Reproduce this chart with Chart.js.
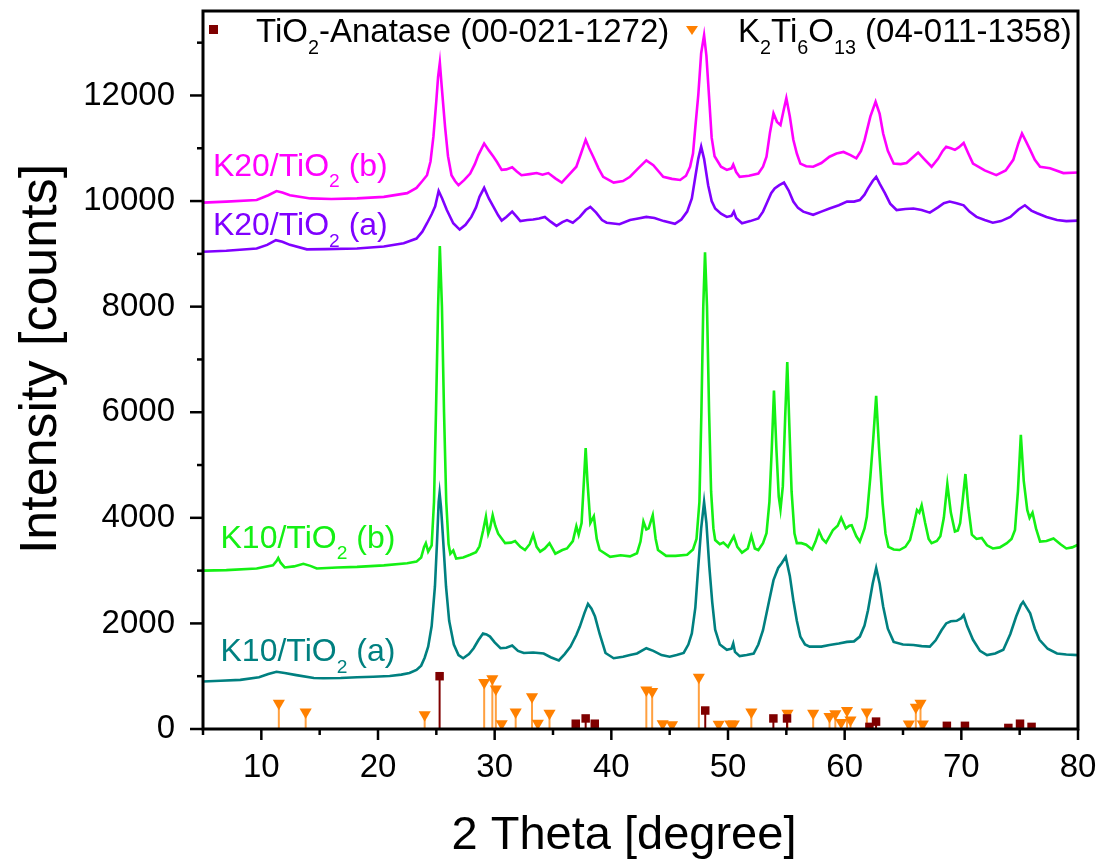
<!DOCTYPE html>
<html>
<head>
<meta charset="utf-8">
<title>XRD K10/K20 TiO2</title>
<script src="https://cdn.jsdelivr.net/npm/chart.js@4.4.1/dist/chart.umd.min.js"></script>
<style>
  body { margin: 0; background: #fff; }
  canvas { display: block; }
</style>
</head>
<body>
<canvas id="xrdChart" width="1102" height="861"></canvas>
<script>
"use strict";

// axis ticks
const xTickValues = [5, 10, 15, 20, 25, 30, 35, 40, 45, 50, 55, 60, 65, 70, 75, 80];
const yTickValues = [0, 1000, 2000, 3000, 4000, 5000, 6000, 7000, 8000, 9000, 10000, 11000, 12000, 13000];

// K10/TiO2 (a)
const k10aAngle = [5.0, 6.5, 8.2, 9.8, 10.6, 11.3, 12.0, 13.0, 14.5, 15.3, 16.8, 18.2, 19.6, 21.0, 22.0, 22.7, 23.3, 23.7, 24.0, 24.3,
    24.6, 24.88, 25.05, 25.2, 25.28, 25.4, 25.55, 25.83, 26.1, 26.5, 26.9, 27.3, 27.8, 28.2, 28.6, 29.0, 29.3, 29.6, 30.0, 30.5,
    31.0, 31.5, 32.0, 32.5, 33.3, 34.2, 34.8, 35.5, 36.0, 36.5, 37.0, 37.3, 37.7, 38.0, 38.3, 38.6, 39.0, 39.5, 40.2, 41.0,
    41.6, 42.2, 43.0, 43.6, 44.3, 45.0, 45.6, 46.2, 46.6, 46.9, 47.2, 47.45, 47.7, 47.95, 48.15, 48.4, 48.65, 48.9, 49.3, 49.9,
    50.3, 50.45, 50.6, 51.0, 51.6, 52.2, 52.6, 53.0, 53.5, 53.9, 54.3, 54.6, 54.95, 55.3, 55.6, 55.9, 56.2, 56.6, 57.0, 58.0,
    58.7, 59.5, 60.2, 60.8, 61.3, 61.7, 62.0, 62.4, 62.7, 63.0, 63.3, 63.7, 64.2, 65.0, 65.9, 66.6, 67.3, 67.8, 68.3, 68.7,
    69.1, 69.6, 70.0, 70.2, 70.5, 71.0, 71.6, 72.2, 72.9, 73.6, 74.2, 74.7, 75.1, 75.3, 75.6, 75.9, 76.3, 76.7, 77.4, 78.2,
    79.0, 80.0];
const k10aCounts = [900, 915, 930, 980, 1040, 1085, 1060, 1020, 965, 960, 965, 980, 990, 1005, 1030, 1060, 1120, 1200, 1350, 1560,
    1950, 2700, 3500, 4300, 4470, 4200, 3700, 2700, 2050, 1600, 1400, 1340, 1420, 1530, 1680, 1810, 1790, 1750, 1640, 1530,
    1540, 1580, 1480, 1440, 1450, 1430, 1360, 1300, 1420, 1560, 1780, 1940, 2200, 2370, 2280, 2130, 1800, 1440, 1340, 1370,
    1400, 1430, 1530, 1480, 1400, 1370, 1400, 1440, 1600, 1810, 2300, 3070, 3800, 4300, 3900, 3070, 2400, 1880, 1600, 1500,
    1520, 1620, 1460, 1380, 1400, 1430, 1600, 1870, 2400, 2820, 3050, 3140, 3260, 2900, 2440, 2050, 1750, 1600, 1560, 1560,
    1590, 1620, 1650, 1660, 1750, 1960, 2250, 2750, 3050, 2750, 2320, 1900, 1650, 1600, 1590, 1570, 1560, 1680, 1870, 2000,
    2040, 2050, 2100, 2160, 1950, 1690, 1480, 1400, 1430, 1500, 1800, 2130, 2350, 2410, 2300, 2190, 1900, 1690, 1520, 1430,
    1410, 1400];

// K10/TiO2 (b)
const k10bAngle = [5.0, 7.0, 9.6, 11.0, 11.3, 11.45, 11.65, 12.0, 12.8, 13.6, 14.2, 14.75, 16.5, 18.2, 20.5, 22.5, 23.3, 23.7, 23.95, 24.1,
    24.3, 24.6, 24.8, 24.97, 25.15, 25.3, 25.48, 25.66, 25.85, 26.05, 26.2, 26.45, 26.7, 27.3, 27.9, 28.4, 28.7, 29.0, 29.25, 29.45,
    29.6, 29.83, 30.05, 30.3, 30.9, 31.4, 31.75, 32.2, 32.6, 33.0, 33.3, 33.6, 33.9, 34.3, 34.7, 35.2, 35.8, 36.2, 36.7, 37.0,
    37.2, 37.45, 37.65, 37.8, 37.95, 38.2, 38.5, 38.75, 39.0, 39.9, 40.8, 41.6, 42.2, 42.5, 42.75, 43.0, 43.2, 43.55, 43.8, 44.0,
    44.7, 45.5, 46.5, 47.0, 47.3, 47.55, 47.72, 47.88, 48.03, 48.2, 48.38, 48.55, 48.75, 48.9, 49.3, 49.6, 50.0, 50.5, 50.8, 51.2,
    51.7, 52.0, 52.3, 52.6, 53.0, 53.3, 53.55, 53.75, 53.94, 54.15, 54.35, 54.5, 54.7, 54.9, 55.08, 55.25, 55.45, 55.7, 55.9, 56.3,
    56.7, 57.2, 57.5, 57.8, 58.1, 58.4, 58.7, 59.0, 59.4, 59.7, 60.1, 60.4, 60.6, 61.0, 61.3, 61.7, 61.9, 62.2, 62.45, 62.7,
    62.95, 63.25, 63.5, 63.75, 64.2, 64.7, 65.2, 65.6, 65.9, 66.2, 66.4, 66.6, 66.9, 67.2, 67.45, 67.9, 68.2, 68.5, 68.8, 69.1,
    69.45, 69.7, 69.9, 70.1, 70.35, 70.6, 70.9, 71.3, 71.75, 72.2, 72.7, 73.3, 73.9, 74.3, 74.6, 74.85, 75.1, 75.35, 75.65, 75.85,
    76.1, 76.4, 76.75, 77.3, 77.9, 78.5, 79.0, 79.5, 80.0];
const k10bCounts = [3000, 3010, 3040, 3100, 3180, 3240, 3150, 3060, 3080, 3130, 3090, 3040, 3060, 3070, 3100, 3140, 3170, 3250, 3450, 3520,
    3360, 3480, 4300, 6000, 8000, 9150, 8000, 6000, 4300, 3500, 3320, 3380, 3230, 3250, 3300, 3350, 3460, 3750, 4020, 3700,
    3800, 4050, 3850, 3700, 3520, 3530, 3560, 3450, 3390, 3500, 3680, 3450, 3360, 3420, 3520, 3320, 3390, 3420, 3560, 3840,
    3680, 3900, 4700, 5320, 4700, 3900, 4030, 3600, 3390, 3260, 3290, 3270, 3330, 3550, 3930, 3780, 3800, 4050, 3600, 3390,
    3280, 3280, 3300, 3400, 3600, 4300, 6000, 8000, 9030, 8000, 6000, 4500, 3800, 3580, 3500, 3530, 3450, 3650, 3450, 3340,
    3420, 3660, 3420, 3390, 3520, 3710, 4300, 5300, 6410, 5300, 4400, 4160, 4600, 5900, 6950, 5800, 4500, 3700, 3520, 3520,
    3490, 3400, 3550, 3750, 3600, 3530, 3650, 3770, 3850, 4000, 3800, 3850, 3860, 3650, 3550, 3800, 4020, 4770, 5500, 6310,
    5300, 4280, 3700, 3450, 3400, 3390, 3450, 3580, 3850, 4150, 4100, 4240, 3900, 3600, 3520, 3560, 3650, 4000, 4640, 4100,
    3740, 3760, 3900, 4300, 4830, 4200, 3680, 3600, 3620, 3480, 3420, 3440, 3520, 3600, 3770, 4500, 5570, 4700, 4150, 4000,
    4100, 3800, 3550, 3560, 3610, 3500, 3420, 3440, 3490];

// K20/TiO2 (a)
const k20aAngle = [5.0, 7.0, 9.6, 10.5, 11.25, 11.8, 12.45, 13.9, 15.5, 18.2, 20.5, 22.2, 23.3, 23.8, 24.2, 24.6, 24.9, 25.2, 25.5, 25.9,
    26.45, 27.0, 27.5, 28.0, 28.4, 28.7, 29.1, 29.5, 29.9, 30.3, 30.6, 31.0, 31.5, 31.9, 32.2, 32.8, 33.3, 33.8, 34.3, 34.8,
    35.3, 35.8, 36.2, 36.7, 37.3, 37.8, 38.2, 38.7, 39.2, 39.6, 40.7, 41.6, 42.3, 43.0, 43.7, 44.5, 45.45, 46.0, 46.5, 46.9,
    47.2, 47.45, 47.7, 47.95, 48.3, 48.6, 48.9, 49.4, 49.9, 50.3, 50.5, 50.7, 51.2, 51.9, 52.6, 53.0, 53.3, 53.7, 54.0, 54.4,
    54.8, 55.2, 55.6, 56.0, 56.45, 57.3, 58.0, 58.7, 59.5, 60.2, 60.8, 61.3, 61.7, 62.0, 62.4, 62.7, 63.0, 63.45, 63.9, 64.45,
    65.2, 65.9, 66.6, 67.3, 68.0, 68.5, 69.0, 69.6, 70.2, 70.7, 71.3, 72.0, 72.7, 73.4, 74.2, 74.9, 75.45, 76.0, 76.5, 77.3,
    78.2, 79.0, 80.0];
const k20aCounts = [9040, 9060, 9100, 9170, 9260, 9230, 9170, 9085, 9090, 9100, 9140, 9200, 9290, 9420, 9580, 9750, 9900, 10190, 10050, 9830,
    9580, 9460, 9550, 9700, 9880, 10080, 10250, 10050, 9890, 9730, 9630, 9700, 9800, 9700, 9620, 9640, 9650, 9670, 9700, 9610,
    9530, 9600, 9640, 9590, 9700, 9830, 9890, 9780, 9640, 9590, 9560, 9640, 9670, 9700, 9680, 9620, 9570, 9650, 9800, 10050,
    10460, 10800, 11030, 10800, 10300, 10000, 9860, 9760, 9700, 9720, 9800, 9680, 9580, 9620, 9670, 9800, 9950, 10150, 10240, 10300,
    10350, 10200, 9990, 9870, 9800, 9740, 9800, 9860, 9920, 9990, 9990, 10020, 10120, 10240, 10380, 10460, 10330, 10150, 9950, 9830,
    9850, 9860, 9830, 9780, 9880, 9960, 9990, 9960, 9920, 9800, 9700, 9640, 9590, 9620, 9700, 9840, 9920, 9820, 9770, 9700,
    9640, 9620, 9630];

// K20/TiO2 (b)
const k20bAngle = [5.0, 7.0, 9.6, 10.6, 11.3, 11.8, 12.45, 14.2, 16.0, 18.2, 20.5, 22.5, 23.3, 23.8, 24.2, 24.5, 24.75, 25.0, 25.15, 25.3,
    25.45, 25.6, 25.75, 26.0, 26.3, 26.6, 26.9, 27.4, 27.9, 28.3, 28.6, 29.1, 29.5, 29.9, 30.2, 30.6, 31.0, 31.5, 31.9, 32.3,
    33.0, 33.6, 34.1, 34.6, 35.2, 35.75, 36.3, 37.0, 37.4, 37.8, 38.1, 38.45, 38.9, 39.3, 40.2, 41.0, 41.6, 42.3, 43.0, 43.6,
    44.45, 45.2, 45.9, 46.4, 46.75, 47.0, 47.2, 47.45, 47.7, 47.95, 48.15, 48.37, 48.6, 48.85, 49.4, 49.9, 50.3, 50.45, 50.7, 51.0,
    51.8, 52.6, 53.0, 53.3, 53.6, 53.9, 54.2, 54.5, 54.75, 55.0, 55.3, 55.6, 55.9, 56.2, 56.7, 57.3, 58.0, 58.7, 59.3, 59.9,
    60.5, 61.0, 61.4, 61.7, 62.2, 62.65, 63.0, 63.3, 63.7, 64.2, 64.8, 65.3, 65.8, 66.3, 66.8, 67.45, 68.0, 68.4, 68.7, 69.1,
    69.45, 69.8, 70.2, 70.6, 71.0, 72.0, 73.0, 73.8, 74.45, 74.9, 75.2, 75.5, 75.9, 76.3, 76.75, 77.6, 78.75, 80.0];
const k20bCounts = [9970, 9990, 10020, 10110, 10190, 10160, 10110, 10050, 10040, 10050, 10080, 10150, 10250, 10380, 10490, 10750, 11220, 11900, 12350, 12620,
    12200, 11800, 11400, 10850, 10490, 10380, 10300, 10400, 10520, 10700, 10870, 11090, 10960, 10840, 10740, 10590, 10600, 10640, 10560, 10490,
    10510, 10530, 10500, 10530, 10430, 10350, 10480, 10650, 10900, 11160, 11000, 10840, 10620, 10460, 10350, 10380, 10460, 10620, 10770, 10680,
    10460, 10420, 10400, 10480, 10650, 10900, 11400, 12000, 12800, 13140, 12750, 12000, 11200, 10850, 10650, 10590, 10620, 10690, 10550, 10460,
    10480, 10520, 10650, 10840, 11300, 11660, 11500, 11440, 11700, 11950, 11600, 11160, 10900, 10710, 10660, 10650, 10720, 10840, 10900, 10930,
    10870, 10810, 10950, 11150, 11600, 11880, 11650, 11280, 10950, 10710, 10700, 10720, 10820, 10920, 10800, 10650, 10800, 10950, 11030, 11000,
    10970, 11020, 11100, 10900, 10710, 10580, 10490, 10580, 10780, 11100, 11280, 11150, 10970, 10780, 10650, 10620, 10530, 10540];

// reference patterns (intensities scaled to counts)
const anataseAngle = [25.28, 36.95, 37.80, 38.58, 48.05, 53.89, 55.06, 62.12, 62.69, 68.76, 70.31, 74.03, 75.03, 76.02];
const anataseHeight = [1000, 100, 200, 100, 350, 200, 200, 40, 140, 60, 60, 20, 100, 40];
const k2ti6o13Angle = [11.5, 13.8, 24.0, 29.1, 29.8, 30.1, 30.6, 31.8, 33.2, 33.7, 34.7, 43.0, 43.5, 44.4, 45.2, 47.5, 49.2, 50.2, 50.5, 52.0,
    55.1, 57.3, 58.7, 59.2, 59.7, 60.2, 60.5, 61.9, 65.5, 66.1, 66.5, 66.7];
const k2ti6o13Height = [490, 320, 270, 880, 950, 760, 100, 320, 610, 110, 300, 740, 710, 100, 80, 980, 90, 95, 95, 320,
    300, 300, 235, 290, 125, 350, 170, 320, 95, 410, 490, 95];

const seriesNames = ["K10/TiO_2 (a)", "K10/TiO_2 (b)", "K20/TiO_2 (a)", "K20/TiO_2 (b)"];
const referenceNames = ["TiO_2-Anatase (00-021-1272)", "K_2Ti_6O_{13} (04-011-1358)"];

const seriesColors = ["#008080", "#14F014", "#8000FF", "#FF00FF"];
const FONT = "'Liberation Sans', Arial, sans-serif";

function toPoints(xs, ys) {
    return xs.map((x, i) => ({ x: x, y: ys[i] }));
}

function lineSet(name, xs, ys, color) {
    return {
        label: name,
        data: toPoints(xs, ys),
        showLine: true,
        borderColor: color,
        borderWidth: 2.6,
        pointRadius: 0,
        tension: 0
    };
}

// split "TiO_2" into normal and subscript parts
function richParts(text) {
    const parts = [];
    let buf = "";
    for (let i = 0; i < text.length; i++) {
        if (text[i] === "_") {
            if (buf) parts.push({ t: buf, sub: false });
            buf = "";
            if (text[i + 1] === "{") {
                const end = text.indexOf("}", i);
                parts.push({ t: text.slice(i + 2, end), sub: true });
                i = end;
            } else {
                parts.push({ t: text[i + 1], sub: true });
                i++;
            }
        } else {
            buf += text[i];
        }
    }
    if (buf) parts.push({ t: buf, sub: false });
    return parts;
}

function drawRich(ctx, text, x, capMid, size, color) {
    const base = capMid + size * 0.358;
    ctx.fillStyle = color;
    ctx.textAlign = "left";
    ctx.textBaseline = "alphabetic";
    richParts(text).forEach(p => {
        const fs = p.sub ? size * 0.6 : size;
        ctx.font = fs + "px " + FONT;
        ctx.fillText(p.t, x, p.sub ? base + size * 0.36 : base);
        x += ctx.measureText(p.t).width;
    });
}

// where the series names sit, in data units
const labelAnchors = [
    { x: 6.5, y: 1500 },
    { x: 6.5, y: 3650 },
    { x: 5.85, y: 9565 },
    { x: 5.85, y: 10700 }
];

const decorPlugin = {
    id: "decor",
    beforeDatasetDraw(chart, args) {
        const ds = chart.data.datasets[args.index];
        if (!ds.sticks) return;
        const ctx = chart.ctx;
        const y0 = chart.scales.y.getPixelForValue(0);
        ctx.save();
        ctx.strokeStyle = ds.stickColor;
        ctx.lineWidth = 2;
        args.meta.data.forEach(el => {
            ctx.beginPath();
            ctx.moveTo(el.x, y0);
            ctx.lineTo(el.x, el.y);
            ctx.stroke();
        });
        ctx.restore();
    },
    afterDraw(chart) {
        const ctx = chart.ctx;
        const a = chart.chartArea;
        const xs = chart.scales.x;
        const ys = chart.scales.y;
        ctx.save();
        ctx.strokeStyle = "#000";
        ctx.lineWidth = 2.5;
        xTickValues.forEach(v => {
            const px = xs.getPixelForValue(v);
            const len = v % 10 === 0 ? 11 : 6;
            ctx.beginPath();
            ctx.moveTo(px, a.bottom);
            ctx.lineTo(px, a.bottom + len);
            ctx.stroke();
        });
        yTickValues.forEach(v => {
            const py = ys.getPixelForValue(v);
            const len = v % 2000 === 0 ? 13 : 6;
            ctx.beginPath();
            ctx.moveTo(a.left, py);
            ctx.lineTo(a.left - len, py);
            ctx.stroke();
        });
        ctx.lineWidth = 3;
        ctx.strokeRect(a.left, a.top, a.right - a.left, a.bottom - a.top);

        // series names
        seriesNames.forEach((name, i) => {
            drawRich(ctx, name, xs.getPixelForValue(labelAnchors[i].x),
                ys.getPixelForValue(labelAnchors[i].y), 32, seriesColors[i]);
        });

        // legend
        const ly = a.top + 19;
        ctx.fillStyle = "#7F0000";
        ctx.fillRect(a.left + 6, ly - 5, 9, 9);
        drawRich(ctx, referenceNames[0], a.left + 53, ly, 33, "#000");
        ctx.fillStyle = "#FF8000";
        ctx.beginPath();
        ctx.moveTo(a.left + 483, ly - 4);
        ctx.lineTo(a.left + 495, ly - 4);
        ctx.lineTo(a.left + 489, ly + 5);
        ctx.closePath();
        ctx.fill();
        drawRich(ctx, referenceNames[1], a.left + 535, ly, 33, "#000");

        // axis titles
        ctx.fillStyle = "#000";
        ctx.font = "47px " + FONT;
        ctx.textAlign = "center";
        ctx.textBaseline = "alphabetic";
        ctx.fillText("2 Theta [degree]", a.left + 421, 849);
        ctx.translate(56, 359);
        ctx.rotate(-Math.PI / 2);
        ctx.font = "52px " + FONT;
        ctx.fillText("Intensity [counts]", 0, 0);
        ctx.restore();
    }
};

const ctx = document.getElementById("xrdChart");
new Chart(ctx, {
    type: "scatter",
    data: {
        datasets: [
            lineSet(seriesNames[0], k10aAngle, k10aCounts, seriesColors[0]),
            lineSet(seriesNames[1], k10bAngle, k10bCounts, seriesColors[1]),
            lineSet(seriesNames[2], k20aAngle, k20aCounts, seriesColors[2]),
            lineSet(seriesNames[3], k20bAngle, k20bCounts, seriesColors[3]),
            {
                label: referenceNames[0],
                data: toPoints(anataseAngle, anataseHeight),
                pointStyle: "rect",
                pointRadius: 6,
                backgroundColor: "#7F0000",
                borderWidth: 0,
                sticks: true,
                stickColor: "#800000"
            },
            {
                label: referenceNames[1],
                data: toPoints(k2ti6o13Angle, k2ti6o13Height),
                pointStyle: "triangle",
                rotation: 180,
                pointRadius: 7,
                backgroundColor: "#FF8000",
                borderWidth: 0,
                sticks: true,
                stickColor: "#FFA040"
            }
        ]
    },
    options: {
        responsive: false,
        animation: false,
        layout: { padding: { top: 11, right: 24, left: 0, bottom: 0 } },
        plugins: { legend: { display: false }, tooltip: { enabled: false } },
        scales: {
            x: {
                type: "linear",
                min: 5,
                max: 80,
                afterBuildTicks: s => { s.ticks = xTickValues.map(v => ({ value: v })); },
                afterFit: s => { s.height = 132; s.paddingLeft = 0; s.paddingRight = 0; },
                grid: { display: false, drawTicks: true, tickLength: 14 },
                border: { display: false },
                ticks: {
                    autoSkip: false,
                    maxRotation: 0,
                    padding: 5,
                    color: "#000",
                    font: { family: FONT, size: 33 },
                    callback: v => (v % 10 === 0 ? v : "")
                }
            },
            y: {
                type: "linear",
                min: 0,
                max: 13600,
                afterBuildTicks: s => { s.ticks = yTickValues.map(v => ({ value: v })); },
                afterFit: s => { s.width = 203; s.paddingTop = 0; s.paddingBottom = 0; },
                grid: { display: false, drawTicks: true, tickLength: 14 },
                border: { display: false },
                ticks: {
                    padding: 14,
                    color: "#000",
                    font: { family: FONT, size: 33 },
                    callback: v => (v % 2000 === 0 ? v : "")
                }
            }
        }
    },
    plugins: [decorPlugin]
});
</script>
</body>
</html>
